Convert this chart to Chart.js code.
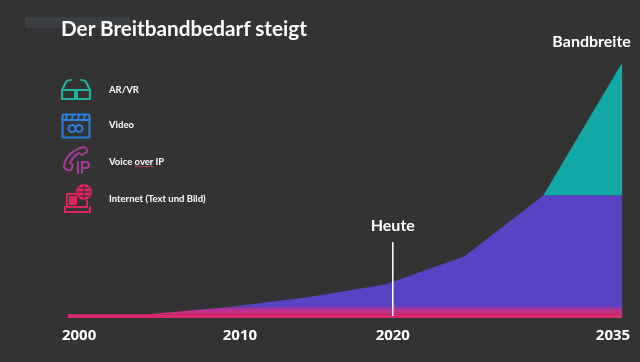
<!DOCTYPE html>
<html lang="de">
<head>
<meta charset="utf-8">
<title>Der Breitbandbedarf steigt</title>
<script src="https://cdn.jsdelivr.net/npm/chart.js@4"></script>
<style>
    html, body { margin: 0; background: #333333; }
    #stage { position: relative; width: 640px; height: 362px; overflow: hidden; background: #333333; font-family: Lato, sans-serif; color: #fff; }
    #myChart { position: absolute; left: 0; top: 0; }
    #ghost { position: absolute; left: 25px; top: 17px; width: 105px; height: 11px; background: #3a3d41; }
    h1 { position: absolute; left: 61px; top: 14px; margin: 0; font: 700 20.7px/28px Lato, sans-serif; white-space: nowrap; }
    .row { position: absolute; left: 109px; font-size: 9.5px; font-weight: 700; line-height: 12px; white-space: nowrap; }
    .row u { text-decoration: underline #c8384a 1px; }
    svg { position: absolute; fill: none; stroke-width: 2; stroke-linejoin: round; stroke-linecap: round; }
</style>
</head>
<body>
<div id="stage">
    <canvas id="myChart" width="640" height="362"></canvas>
    <div id="ghost"></div>
    <h1>Der Breitbandbedarf steigt</h1>

    <svg style="left:60px;top:78px" width="32" height="24" viewBox="0 0 32 24" stroke="#1fb5a0">
        <path d="M2 12 L6 4 Q7 2 11 2 M30 12 L26 4 Q25 2 21 2 M2 12 H30 M2 12 V21 H15 V12 M17 12 V21 H30 V12"/>
    </svg>
    <svg style="left:61px;top:113px" width="30" height="26" viewBox="0 0 30 26" stroke="#2d7fe0">
        <rect x="1.5" y="1.5" width="27" height="23" rx="1"/>
        <path d="M1.5 7 H28.5 M6 2 L5 6 M12 2 L11 6 M18 2 L17 6 M24 2 L23 6"/>
        <circle cx="11" cy="15.5" r="3.5"/><circle cx="18" cy="15.5" r="3.5"/>
    </svg>
    <svg style="left:61px;top:145px" width="30" height="30" viewBox="0 0 30 30" stroke="#a83a9c">
        <path d="M22 2 Q27 3 26 7 L21 10 L18 8 Q12 11 9 18 L12 20 L10 25 Q5 26 3 22 Q4 8 22 2 Z"/>
        <path d="M17 17 V28 M21 28 V17 H25 Q28 17 28 20 Q28 23 25 23 H21"/>
    </svg>
    <svg style="left:63px;top:184px" width="30" height="30" viewBox="0 0 30 30" stroke="#e0245e">
        <path d="M4 23 V10 H14 M4 23 H24 V17 M2 23 V28 H27 V23"/>
        <path d="M7 13 H13 V20 H7 Z" fill="#e0245e"/>
        <circle cx="21" cy="8" r="7" fill="#e0245e"/>
        <path d="M14 8 H28 M21 1 V15 M16 4 H26 M16 12 H26" stroke="#333333" stroke-width="1"/>
    </svg>

    <div class="row" style="top:84px">AR/VR</div>
    <div class="row" style="top:119px">Video</div>
    <div class="row" style="top:156px">Voice <u>over</u> IP</div>
    <div class="row" style="top:193px">Internet (Text und Bild)</div>
</div>

<script>
// 5 year steps, the areas are stacked on top of each other
const years = [2000, 2005, 2010, 2015, 2020, 2025, 2030, 2035];
const internet = [1.5, 1.5, 1.5, 1.5, 1.5, 1.5, 1.5, 1.5];
const voiceOverIp = [0, 0, 2.7, 2.8, 2.8, 2.8, 2.8, 2.8];
const video = [0, 0, 0, 3.7, 8.8, 19.7, 43.6, 43.6];
const arVr = [0, 0, 0, 0, 0, 0, 0, 52.1];

// where the year labels sit in the original slide (not exactly on the data years)
const tickLabels = ['2000', '2010', '2020', '2035'];
const tickAnchors = [2000.7, 2010.85, 2020.5, 2034.4];

const todayYear = 2020.5;
const todayLine = [0.8, 29.7];

function points(values) {
    return values.map((v, i) => ({ x: years[i], y: v }));
}

function magentaFill(context) {
    const area = context.chart.chartArea;
    if (!area) return '#c02f8c';
    const g = context.chart.ctx.createLinearGradient(0, area.bottom - 3, 0, area.bottom - 12);
    g.addColorStop(0, '#da2b76');
    g.addColorStop(0.5, '#bd2f92');
    g.addColorStop(1, '#7a3cb6');
    return g;
}

// texts above the line and the peak
const annotationPlugin = {
    id: 'annotations',
    afterDatasetsDraw(chart) {
        const { ctx, scales } = chart;
        ctx.save();
        ctx.fillStyle = '#ffffff';
        ctx.font = '700 16px Lato, sans-serif';
        ctx.textAlign = 'center';
        ctx.textBaseline = 'middle';
        ctx.fillText('Heute', scales.x.getPixelForValue(todayYear), scales.y.getPixelForValue(36));
        ctx.fillText('Bandbreite', scales.x.getPixelForValue(2033.05), scales.y.getPixelForValue(107.7));
        ctx.restore();
    }
};

new Chart(document.getElementById('myChart'), {
    type: 'line',
    data: {
        datasets: [
            { label: 'Internet (Text und Bild)', data: points(internet), backgroundColor: '#da2b72', fill: 'origin', stack: 'bands' },
            { label: 'Voice over IP', data: points(voiceOverIp), backgroundColor: magentaFill, fill: '-1', stack: 'bands' },
            { label: 'Video', data: points(video), backgroundColor: '#5a42c4', fill: '-1', stack: 'bands' },
            { label: 'AR/VR', data: points(arVr), backgroundColor: '#11a8a6', fill: '-1', stack: 'bands' },
            {
                label: 'Heute',
                data: [{ x: todayYear, y: todayLine[0] }, { x: todayYear, y: todayLine[1] }],
                borderColor: '#ffffff',
                borderWidth: 1.5,
                fill: false,
                stack: 'today',
                order: -1
            }
        ]
    },
    options: {
        responsive: false,
        animation: false,
        layout: { padding: { left: 68, right: 17.5, top: 62, bottom: 0 } },
        elements: {
            point: { radius: 0 },
            line: { borderWidth: 0, tension: 0 }
        },
        plugins: {
            legend: { display: false },
            title: { display: false },
            tooltip: { enabled: false }
        },
        scales: {
            x: {
                type: 'linear',
                min: years[0],
                max: years[years.length - 1],
                grid: { display: false },
                border: { display: false },
                afterBuildTicks: scale => { scale.ticks = tickAnchors.map(v => ({ value: v })); },
                afterFit: scale => { scale.height = 44; scale.paddingLeft = 0; scale.paddingRight = 0; },
                ticks: {
                    autoSkip: false,
                    maxRotation: 0,
                    padding: 1,
                    color: '#ffffff',
                    font: { family: '"Open Sans", sans-serif', size: 15, weight: '700' },
                    callback: (value, index) => tickLabels[index]
                }
            },
            y: {
                display: false,
                stacked: true,
                min: 0,
                max: 100
            }
        }
    },
    plugins: [annotationPlugin]
});
</script>
</body>
</html>
